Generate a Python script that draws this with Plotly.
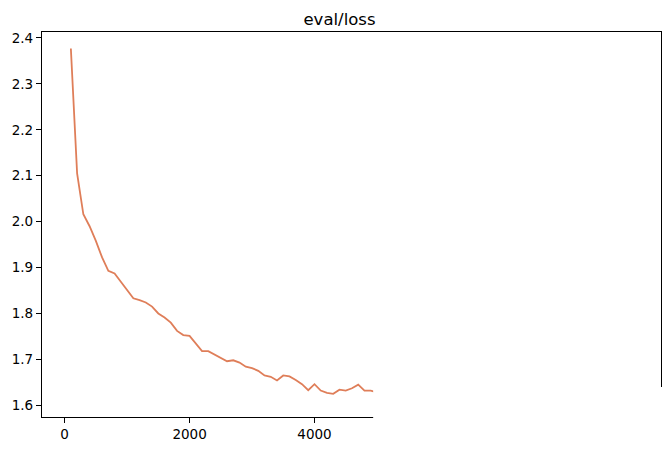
import plotly.graph_objects as go

steps = [100, 200, 300, 400, 500, 600, 700, 800, 900, 1000,
         1100, 1200, 1300, 1400, 1500, 1600, 1700, 1800, 1900, 2000,
         2100, 2200, 2300, 2400, 2500, 2600, 2700, 2800, 2900, 3000,
         3100, 3200, 3300, 3400, 3500, 3600, 3700, 3800, 3900, 4000,
         4100, 4200, 4300, 4400, 4500, 4600, 4700, 4800, 4900, 5000]
loss = [2.377, 2.105, 2.016, 1.990, 1.958, 1.922, 1.893, 1.887, 1.869, 1.850,
        1.833, 1.829, 1.824, 1.815, 1.800, 1.791, 1.780, 1.762, 1.753, 1.751,
        1.735, 1.718, 1.718, 1.711, 1.704, 1.696, 1.698, 1.693, 1.684, 1.681,
        1.675, 1.665, 1.662, 1.654, 1.665, 1.663, 1.655, 1.646, 1.633, 1.646,
        1.632, 1.627, 1.625, 1.634, 1.632, 1.637, 1.645, 1.632, 1.632, 1.628]

x_ticks = [0, 2000, 4000, 6000, 8000]
y_ticks = [1.6, 1.7, 1.8, 1.9, 2.0, 2.1, 2.2, 2.3, 2.4]

fig = go.Figure()
fig.add_trace(go.Scatter(x=steps, y=loss, mode="lines",
                         line=dict(color="#df7e59", width=1.8),
                         showlegend=False))

axis_common = dict(showline=True, linecolor="black", linewidth=1.2, mirror=True,
                   ticks="outside", ticklen=5, tickwidth=1, tickcolor="black",
                   showgrid=False, zeroline=False, automargin=False,
                   tickfont=dict(family="DejaVu Sans", size=13.5, color="black"))

# page body has an 8px margin, so the figure is sized/offset to compensate
fig.update_layout(
    width=663, height=443,
    margin=dict(l=34, r=10, t=24, b=34, autoexpand=False),
    paper_bgcolor="white", plot_bgcolor="white",
    title=dict(text="eval/loss", x=0.5, xanchor="center", y=0.975, yanchor="middle",
               font=dict(family="DejaVu Sans", size=16.5, color="black")),
    xaxis=dict(range=[-362, 9547], tickvals=x_ticks, tickformat="d", **axis_common),
    yaxis=dict(range=[1.5745, 2.413], tickvals=y_ticks, tickformat=".1f", **axis_common),
)

# faded / erased region in the lower-right of the reference image
fig.add_shape(type="rect", xref="paper", yref="paper",
              x0=0.535, x1=1.03, y0=-0.1, y1=0.078,
              fillcolor="white", line=dict(width=0), layer="above")

fig.write_html("out.html")
